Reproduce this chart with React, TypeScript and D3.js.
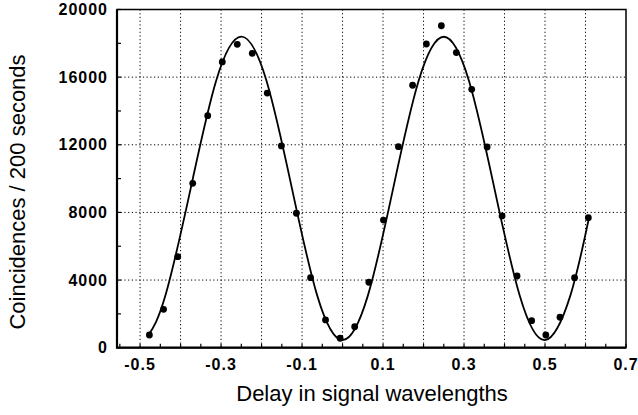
import { useEffect, useRef } from "react";
import * as d3 from "d3";

const delays = [
  -0.477, -0.442, -0.407, -0.37, -0.333, -0.297, -0.26, -0.223, -0.186, -0.151,
  -0.114, -0.079, -0.042, -0.006, 0.03, 0.065, 0.101, 0.138, 0.173, 0.207,
  0.244, 0.281, 0.319, 0.357, 0.394, 0.431, 0.467, 0.502, 0.537, 0.573, 0.607,
];
const counts = [
  750, 2270, 5380, 9720, 13720, 16900, 17940, 17410, 15060, 11930,
  7950, 4140, 1640, 560, 1240, 3870, 7550, 11890, 15520, 17960,
  19040, 17450, 15280, 11870, 7790, 4240, 1600, 750, 1800, 4140, 7690,
];

// fitted curve
const fitX = [
  -0.48, -0.4375, -0.375, -0.3125, -0.25, -0.1875, -0.125, -0.0625, 0,
  0.0625, 0.125, 0.1875, 0.25, 0.3125, 0.375, 0.4375, 0.5, 0.5625, 0.61,
];
const fitY = [
  720, 3080, 9420, 15760, 18390, 15760, 9420, 3080, 450,
  3080, 9420, 15760, 18390, 15760, 9420, 3080, 450, 3080, 7850,
];

const xTickLabels = [-0.5, -0.3, -0.1, 0.1, 0.3, 0.5, 0.7];
const xGrid = [-0.5, -0.4, -0.3, -0.2, -0.1, 0, 0.1, 0.2, 0.3, 0.4, 0.5, 0.6];
const yTickLabels = [0, 4000, 8000, 12000, 16000, 20000];
const yGrid = [4000, 8000, 12000, 16000];

const W = 638;
const H = 415;
const font = "'Liberation Sans', Arial, Helvetica, sans-serif";

const App = () => {
  const svgRef = useRef<SVGSVGElement>(null);

  useEffect(() => {
    const svg = d3.select(svgRef.current);
    svg.selectAll("*").remove();

    const left = 117, right = 626, top = 9.5, bottom = 347.7;

    const x = d3.scaleLinear().domain([-0.557, 0.7]).range([left, right]);
    const y = d3.scaleLinear().domain([0, 20000]).range([bottom, top]);

    // dotted grid
    const grid = svg.append("g")
      .attr("stroke", "#000")
      .attr("stroke-width", 1)
      .attr("stroke-dasharray", "1.2,2.5");
    xGrid.forEach((v) => {
      grid.append("line")
        .attr("x1", x(v)).attr("x2", x(v))
        .attr("y1", top).attr("y2", bottom);
    });
    yGrid.forEach((v) => {
      grid.append("line")
        .attr("x1", left).attr("x2", right)
        .attr("y1", y(v)).attr("y2", y(v));
    });

    // inward ticks
    const ticks = svg.append("g").attr("stroke", "#000").attr("stroke-width", 1.2);
    d3.range(-0.55, 0.701, 0.05).forEach((v) => {
      ticks.append("line")
        .attr("x1", x(v)).attr("x2", x(v))
        .attr("y1", bottom).attr("y2", bottom - 4);
    });
    d3.range(0, 20001, 2000).forEach((v) => {
      ticks.append("line")
        .attr("x1", left).attr("x2", left + 4)
        .attr("y1", y(v)).attr("y2", y(v));
    });

    // frame
    svg.append("rect")
      .attr("x", left).attr("y", top)
      .attr("width", right - left).attr("height", bottom - top)
      .attr("fill", "none")
      .attr("stroke", "#000")
      .attr("stroke-width", 1.5);
    svg.append("path")
      .attr("d", `M${left},${top}V${bottom}H${right}`)
      .attr("fill", "none")
      .attr("stroke", "#000")
      .attr("stroke-width", 2.2);

    // fit curve
    const line = d3.line<number>()
      .x((d, i) => x(fitX[i]))
      .y((d) => y(d))
      .curve(d3.curveNatural);
    svg.append("path")
      .attr("d", line(fitY))
      .attr("fill", "none")
      .attr("stroke", "#000")
      .attr("stroke-width", 1.8);

    // data points
    svg.append("g")
      .selectAll("circle")
      .data(counts)
      .join("circle")
      .attr("cx", (d, i) => x(delays[i]))
      .attr("cy", (d) => y(d))
      .attr("r", 3.4)
      .attr("fill", "#000");

    // tick labels
    svg.append("g")
      .selectAll("text")
      .data(xTickLabels)
      .join("text")
      .attr("x", (d) => x(d))
      .attr("y", 370)
      .attr("text-anchor", "middle")
      .style("font-family", font)
      .style("font-size", "16px")
      .style("font-weight", "bold")
      .style("letter-spacing", "1px")
      .text((d) => d3.format(".1f")(d).replace("−", "-"));

    svg.append("g")
      .selectAll("text")
      .data(yTickLabels)
      .join("text")
      .attr("x", 108)
      .attr("y", (d) => y(d) + 5.6)
      .attr("text-anchor", "end")
      .style("font-family", font)
      .style("font-size", "16px")
      .style("font-weight", "bold")
      .style("letter-spacing", "1px")
      .text((d) => String(d));

    // axis titles
    svg.append("text")
      .attr("x", 372)
      .attr("y", 401)
      .attr("text-anchor", "middle")
      .style("font-family", font)
      .style("font-size", "22px")
      .text("Delay in signal wavelengths");

    svg.append("text")
      .attr("transform", "translate(25,192) rotate(-90)")
      .attr("text-anchor", "middle")
      .style("font-family", font)
      .style("font-size", "22px")
      .text("Coincidences / 200 seconds");
  }, []);

  return (
    <svg
      ref={svgRef}
      width={W}
      height={H}
      style={{ position: "absolute", left: 0, top: 0, background: "#fff" }}
    />
  );
};

export default App;
